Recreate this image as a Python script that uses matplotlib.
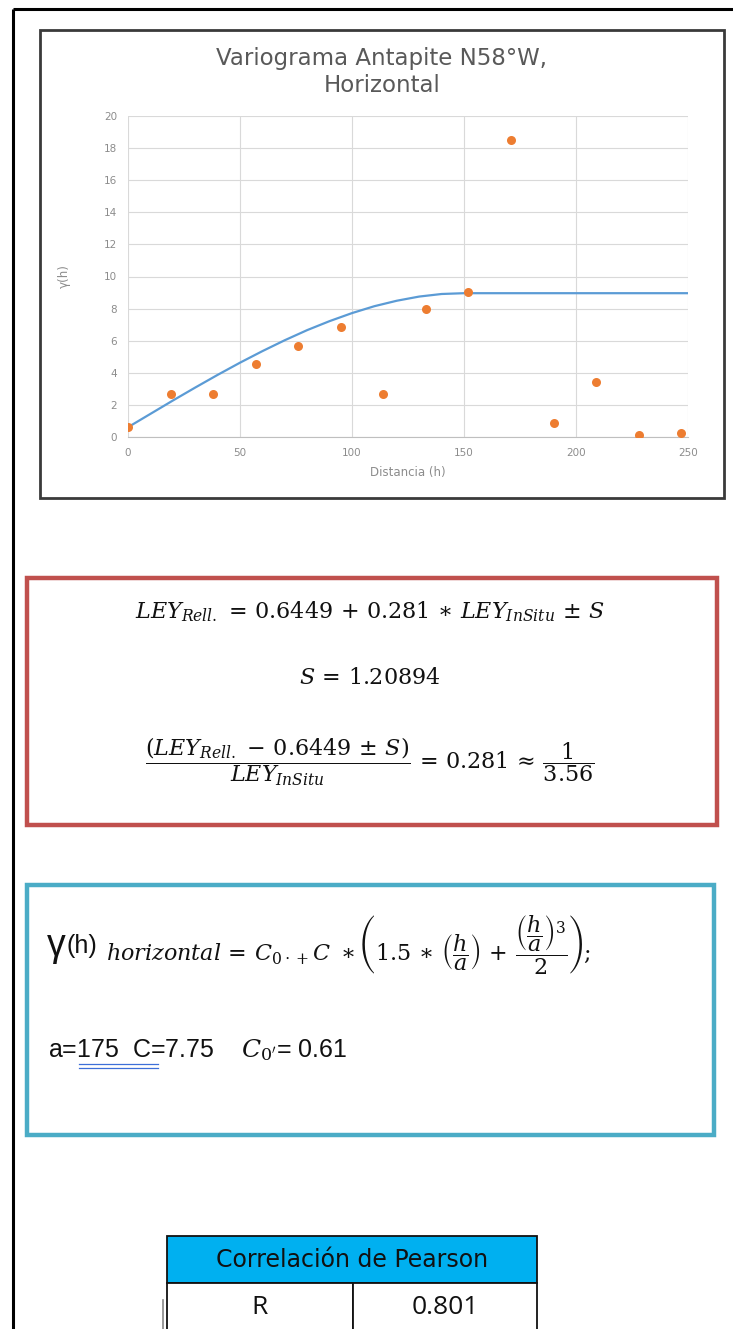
import numpy as np
import matplotlib.pyplot as plt
from matplotlib.patches import Rectangle

plt.rcParams['mathtext.fontset'] = 'dejavuserif'

# experimental variogram, lag distance h vs gamma(h)
lag_h = [0, 19, 38, 57, 76, 95, 114, 133, 152, 171, 190, 209, 228, 247]
gamma_exp = [0.6, 2.65, 2.68, 4.55, 5.65, 6.87, 2.68, 8.0, 9.03, 18.5, 0.85, 3.43, 0.1, 0.25]

# fitted model, values
model_h = [0, 10, 20, 30, 40, 50, 60, 70, 80, 90, 100, 110, 120, 130, 140, 150, 250]
gamma_model = [0.61, 1.44, 2.27, 3.08, 3.87, 4.63, 5.35, 6.03, 6.66, 7.22, 7.72,
               8.15, 8.49, 8.75, 8.91, 8.96, 8.96]

x_ticks = [0, 50, 100, 150, 200, 250]
y_ticks = list(range(0, 21, 2))

pearson_label = 'R'
pearson_r = 0.801

W, H = 733, 1329
fig = plt.figure(figsize=(W / 100, H / 100), dpi=100)

# full-page layer in pixel units for frames, formulas and the table
bg = fig.add_axes([0, 0, 1, 1])
bg.set_xlim(0, W)
bg.set_ylim(H, 0)
bg.axis('off')


def fig_rect(x0, y0, x1, y1):
    return [x0 / W, 1 - y1 / H, (x1 - x0) / W, (y1 - y0) / H]


# page frame
bg.plot([13, 13], [9, H], color='black', lw=2.2, solid_capstyle='butt')
bg.plot([13, W], [9, 9], color='black', lw=2.2, solid_capstyle='butt')

# chart frame
bg.add_patch(Rectangle((40, 30), 684, 468, fill=False, ec='#3a3a3a', lw=2))
bg.text(382, 58, 'Variograma Antapite N58°W,', ha='center', va='center',
        fontsize=16.5, color='#595959', family='DejaVu Sans')
bg.text(382, 86, 'Horizontal', ha='center', va='center',
        fontsize=16.5, color='#595959', family='DejaVu Sans')

ax = fig.add_axes(fig_rect(128, 116, 688, 437))
ax.plot(model_h, gamma_model, color='#5b9bd5', lw=1.6, zorder=3)
ax.plot(lag_h, gamma_exp, 'o', color='#ed7d31', ms=6.5, mec='none', zorder=4)
ax.set_xlim(0, 250)
ax.set_ylim(0, 20)
ax.set_xticks(x_ticks)
ax.set_yticks(y_ticks)
ax.grid(True, color='#d9d9d9', lw=0.8)
ax.set_axisbelow(True)
for s in ['top', 'right', 'left']:
    ax.spines[s].set_visible(False)
ax.spines['bottom'].set_color('#bfbfbf')
ax.tick_params(length=0, labelsize=7.5, labelcolor='#8c8c8c', pad=8)
ax.set_xlabel('Distancia (h)', fontsize=8.5, color='#8c8c8c', labelpad=6)
ax.set_ylabel('γ(h)', fontsize=8.5, color='#8c8c8c', labelpad=24)

# regression box
bg.add_patch(Rectangle((27, 578), 690, 247, fill=False, ec='#c0504d', lw=3.2))
bg.text(370, 612, r'$LEY_{Rell.}\,=\,0.6449\,+\,0.281\,\ast\,LEY_{InSitu}\,\pm\,S$',
        ha='center', va='center', fontsize=16, color='#111111')
bg.text(370, 678, r'$S\,=\,1.20894$', ha='center', va='center', fontsize=16, color='#111111')
bg.text(370, 762, r'$\dfrac{(LEY_{Rell.}\,-\,0.6449\,\pm\,S)}{LEY_{InSitu}}\,=\,0.281\,\approx\,\dfrac{1}{3.56}$',
        ha='center', va='center', fontsize=16, color='#111111')

# variogram model box
bg.add_patch(Rectangle((27, 885), 687, 250, fill=False, ec='#4bacc6', lw=3.2))
bg.text(47, 956, 'γ', ha='left', va='baseline', fontsize=27, color='#111111',
        family='Liberation Sans')
bg.text(66, 953, '(h)', ha='left', va='baseline', fontsize=18, color='#111111',
        family='Liberation Sans')
bg.text(106, 945,
        r'$horizontal\,=\,C_{0\cdot+}C\ \ast\left(1.5\,\ast\,\left(\dfrac{h}{a}\right)\,+\,'
        r'\dfrac{\left(\dfrac{h}{a}\right)^{3}}{2}\right);$',
        ha='left', va='center', fontsize=16, color='#111111')
bg.text(48, 1050, r"a=175  C=7.75    $C_{0'}$= 0.61", ha='left', va='center',
        fontsize=18, color='#111111', family='Liberation Sans')
bg.plot([79, 158], [1064, 1064], color='#3d6fd8', lw=0.9)
bg.plot([79, 158], [1068, 1068], color='#3d6fd8', lw=0.9)

# Pearson correlation table
bg.add_patch(Rectangle((167, 1236), 370, 47, fc='#00b0f0', ec='#111111', lw=1.3))
bg.add_patch(Rectangle((167, 1283), 186, 52, fc='white', ec='#111111', lw=1.3))
bg.add_patch(Rectangle((353, 1283), 184, 52, fc='white', ec='#111111', lw=1.3))
bg.plot([163, 163], [1300, H], color='#888888', lw=1.2)
bg.text(352, 1260, 'Correlación de Pearson', ha='center', va='center',
        fontsize=17, color='#111111', family='DejaVu Sans')
bg.text(260, 1308, pearson_label, ha='center', va='center', fontsize=19,
        color='#111111', family='Open Sans')
bg.text(445, 1308, f'{pearson_r:.3f}', ha='center', va='center', fontsize=19,
        color='#111111', family='Open Sans')

fig.savefig('out.png', dpi=100)
